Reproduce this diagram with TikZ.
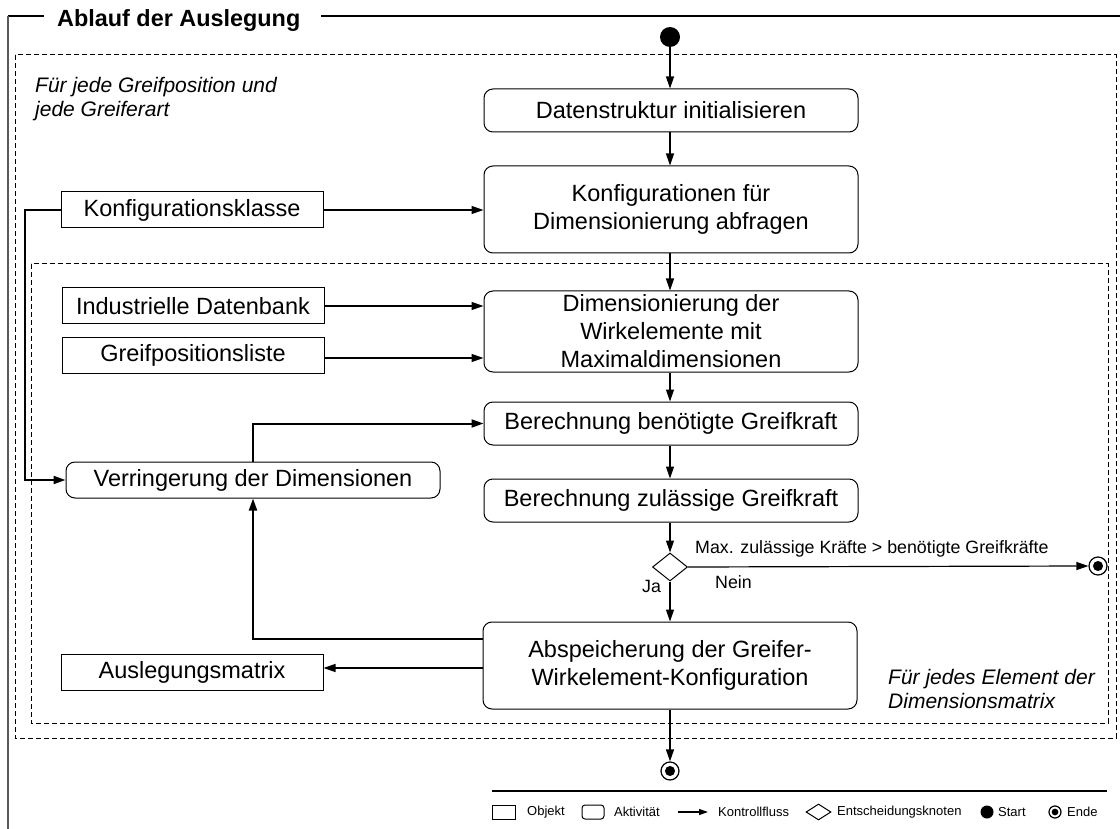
\documentclass[tikz,border=0pt]{standalone}
\usepackage{fontspec}
\setmainfont{Liberation Sans}
\usetikzlibrary{arrows.meta,shapes.geometric,calc}

\begin{document}
\begin{tikzpicture}[x=1pt,y=-1pt,
  every node/.style={inner sep=0pt},
  bodytext/.style={font=\fontsize{23.5}{28}\selectfont},
  objbox/.style={bodytext, draw, line width=1pt, minimum width=262pt, minimum height=36pt},
  actbox/.style={bodytext, draw, line width=1pt, rounded corners=9pt, minimum width=374pt, align=center},
  flow/.style={line width=1.2pt, -{Triangle[length=12pt,width=8pt]}},
  loopflow/.style={flow, line width=2pt},
  region/.style={line width=1pt, dash pattern=on 5pt off 3pt},
  note/.style={font=\fontsize{21}{24}\selectfont\itshape, anchor=base west},
  guard/.style={font=\fontsize{17.8}{20}\selectfont, anchor=base west},
  legtext/.style={font=\fontsize{13}{15}\selectfont, anchor=west},
  startdot/.style={circle, fill=black, minimum size=#1},
  enddot/.style={circle, draw, line width=1.2pt, minimum size=#1,
    path picture={\fill (path picture bounding box.center) circle (0.28*#1);}},
  decision/.style={diamond, draw, line width=1pt, minimum width=#1, minimum height=0.8*#1}
]
\useasboundingbox (0,0) rectangle (1120,829);

% frame of the activity
\draw[line width=1.3pt] (8,16) -- (44,16);
\draw[line width=1.3pt] (321,16) -- (1120,16);
\draw[line width=2.4pt, black!65] (8,16) -- (8,829);
\node[font=\fontsize{23.4}{28}\selectfont\bfseries, anchor=base west] (title) at (57,27) {Ablauf der Auslegung};

% loop regions
\draw[region] (15,55) rectangle (1116,738);
\draw[region] (31,264) rectangle (1108,723);
\node[note] (outerA) at (35,93) {Für jede Greifposition und};
\node[note] (outerB) at (35,117) {jede Greiferart};
\node[note] (innerA) at (888,684) {Für jedes Element der};
\node[note] (innerB) at (888,708) {Dimensionsmatrix};

% activities
\node[startdot=20pt] (start) at (670,37) {};
\node[actbox, minimum height=43pt] (data) at (671,110.5) {Datenstruktur initialisieren};
\node[actbox, minimum height=87pt] (konf) at (671,209.5) {Konfigurationen für\\Dimensionierung abfragen};
\node[actbox, minimum height=81pt] (dim) at (671,331.5) {Dimensionierung der\\Wirkelemente mit\\Maximaldimensionen};
\node[actbox, minimum height=43pt] (bbg) at (671,423.5) {Berechnung benötigte Greifkraft};
\node[actbox, minimum height=43pt] (bzg) at (671,500.5) {Berechnung zulässige Greifkraft};
\node[decision=35pt] (dec) at (670,567) {};
\node[enddot=18pt] (endA) at (1098,566) {};
\node[actbox, minimum height=87pt] (abs) at (670,665.5) {Abspeicherung der Greifer-\\Wirkelement-Konfiguration};
\node[enddot=18pt] (endB) at (670,771) {};
\node[actbox, minimum height=36pt] (verr) at (253,480) {Verringerung der Dimensionen};

% objects
\node[objbox] (kk) at (192,210) {Konfigurationsklasse};
\node[objbox] (ind) at (193,306) {Industrielle Datenbank};
\node[objbox] (gpl) at (193,355.5) {Greifpositionsliste};
\node[objbox] (aus) at (192,672.5) {Auslegungsmatrix};

% control flow
\draw[flow] (start) -- (start |- data.north);
\draw[flow] (data.south -| start) -- (start |- konf.north);
\draw[flow] (konf.south -| start) -- (start |- dim.north);
\draw[flow] (kk.east) -- (kk.east -| konf.west);
\coordinate (indOut) at ($(ind.east)+(0,0)$);
\draw[flow] (indOut) -- (indOut -| dim.west);
\coordinate (gplOut) at ($(gpl.east)+(0,2.5)$);
\draw[flow] (gplOut) -- (gplOut -| dim.west);
\draw[flow] (dim.south -| start) -- (start |- bbg.north);
\draw[flow] (bbg.south -| start) -- (start |- bzg.north);
\draw[flow] (bzg.south -| dec) -- (dec.north);
\draw[flow] (dec.east) -- (endA.west);
\draw[flow] (dec.south) -- (dec |- abs.north);
\draw[flow] (abs.south) -- (endB.north);

\coordinate (kkBend) at ($(kk.west)+(-36,0)$);
\draw[loopflow] (kk.west) -- (kkBend) |- (verr.west);
\draw[loopflow] (verr.north) |- (bbg.west);
\coordinate (absBack) at ($(abs.west)+(0,-26.5)$);
\draw[loopflow] (absBack) -| (verr.south);
\coordinate (absOut) at ($(abs.west)+(0,2.5)$);
\draw[flow] (absOut) -- (absOut -| aus.east);

% guards
\node[guard] (gMax) at (695,553) {Max. zulässige Kräfte > benötigte Greifkräfte};
\node[guard] (gNein) at (715,588) {Nein};
\node[guard] (gJa) at (642,592) {Ja};

% legend
\draw[line width=1.3pt] (492,791) -- (1107,791);
\node[draw, line width=1pt, minimum width=23pt, minimum height=14pt] (lObj) at (503.5,812) {};
\node[legtext] (tObj) at (527,812) {Objekt};
\node[draw, line width=1pt, rounded corners=3pt, minimum width=22pt, minimum height=14pt] (lAct) at (593,812) {};
\node[legtext] (tAct) at (614,812) {Aktivität};
\coordinate (lFlowA) at (678,812);
\coordinate (lFlowB) at (708,812);
\draw[line width=1.2pt, -{Triangle[length=9pt,width=6pt]}] (lFlowA) -- (lFlowB);
\node[legtext] (tFlow) at (718,812) {Kontrollfluss};
\node[decision=25pt, minimum height=16pt] (lDec) at (818.5,812) {};
\node[legtext] (tDec) at (837,812) {Entscheidungsknoten};
\node[startdot=13pt] (lStart) at (987,812) {};
\node[legtext] (tStart) at (998,812) {Start};
\node[enddot=12pt] (lEnd) at (1055,812) {};
\node[legtext] (tEnd) at (1067,812) {Ende};
\end{tikzpicture}
\end{document}
